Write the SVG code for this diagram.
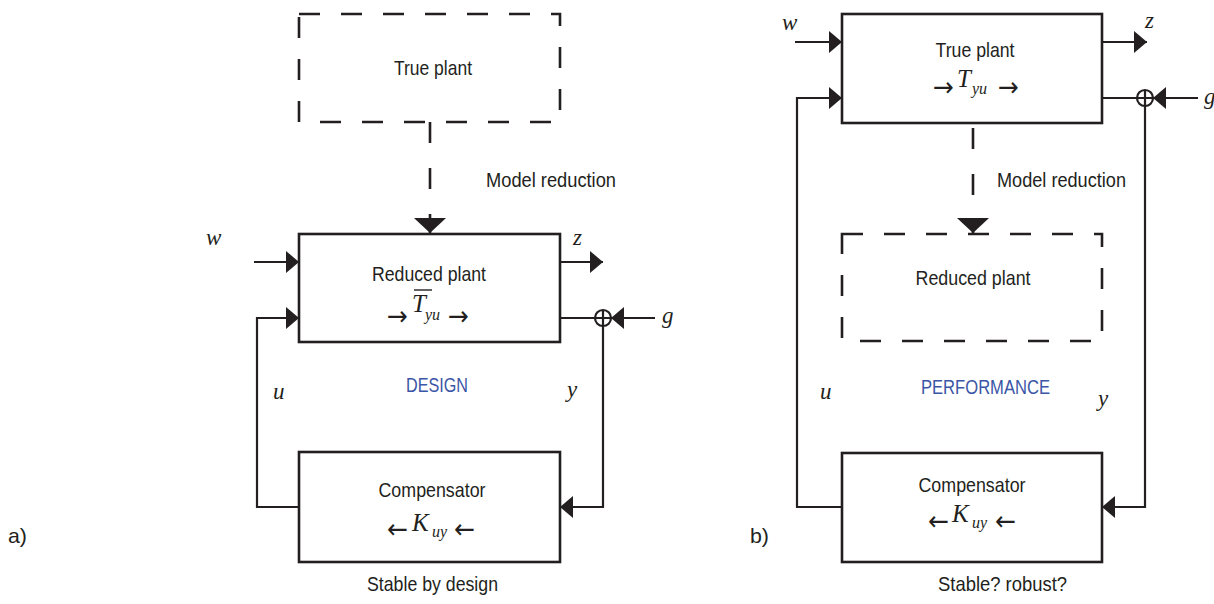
<svg xmlns="http://www.w3.org/2000/svg" width="1214" height="604" viewBox="0 0 1214 604">
<style>
.box{fill:#fff;stroke:#231f20;stroke-width:2.6}
.dbox{fill:none;stroke:#231f20;stroke-width:2.6;stroke-dasharray:21 21}
.ln{fill:none;stroke:#231f20;stroke-width:2.2}
.dln{fill:none;stroke:#231f20;stroke-width:2.6;stroke-dasharray:21 25}
.t{font-family:"Liberation Sans",Arial,sans-serif;font-size:21px;fill:#231f20}
.blue{font-family:"Liberation Sans",Arial,sans-serif;font-size:21px;fill:#3b56a6}
.m{font-family:"Liberation Serif","Times New Roman",serif;font-style:italic;font-size:23px;fill:#231f20}
.mb{font-family:"Liberation Serif","Times New Roman",serif;font-style:italic;font-size:25px;fill:#231f20}
.sub{font-family:"Liberation Serif","Times New Roman",serif;font-style:italic;font-size:16px;fill:#231f20}
.ar{font-family:"DejaVu Sans",sans-serif;font-size:27px;fill:#231f20}
.sum{fill:#fff;stroke:#231f20;stroke-width:2.2}
</style>
<defs>
<marker id="ah" markerUnits="userSpaceOnUse" markerWidth="14" markerHeight="24" refX="13" refY="11" orient="auto">
<path d="M0,0 L13,11 L0,22 Z" fill="#231f20"/>
</marker>
<marker id="ahb" markerUnits="userSpaceOnUse" markerWidth="16" markerHeight="34" refX="15" refY="16" orient="auto">
<path d="M0,0 L15,16 L0,32 Z" fill="#231f20"/>
</marker>
</defs>

<g id="connectors">
<!-- left -->
<path class="dln" d="M430,122 V233" marker-end="url(#ahb)"/>
<path class="ln" d="M254,262 H299" marker-end="url(#ah)"/>
<path class="ln" d="M299,507 H257 V318 H299" marker-end="url(#ah)"/>
<path class="ln" d="M560,262 H603" marker-end="url(#ah)"/>
<path class="ln" d="M560,318 H595"/>
<path class="ln" d="M655,318 H611" marker-end="url(#ah)"/>
<path class="ln" d="M603,326 V507 H560" marker-end="url(#ah)"/>
<!-- right -->
<path class="dln" d="M973,128 V233" marker-end="url(#ahb)"/>
<path class="ln" d="M795,42 H842" marker-end="url(#ah)"/>
<path class="ln" d="M842,507 H797 V98 H842" marker-end="url(#ah)"/>
<path class="ln" d="M1102,42 H1147" marker-end="url(#ah)"/>
<path class="ln" d="M1102,98 H1137"/>
<path class="ln" d="M1198,98 H1153" marker-end="url(#ah)"/>
<path class="ln" d="M1145,106 V507 H1102" marker-end="url(#ah)"/>
</g>

<g id="sum-a">
<circle class="sum" cx="603" cy="318" r="8"/>
<path class="ln" d="M595,318 H611 M603,310 V326"/>
</g>
<g id="sum-b">
<circle class="sum" cx="1145" cy="98" r="8"/>
<path class="ln" d="M1137,98 H1153 M1145,90 V106"/>
</g>

<g id="true-plant-a">
<rect class="dbox" x="299" y="14" width="261" height="108"/>
<text class="t" x="433" y="75" text-anchor="middle" textLength="78" lengthAdjust="spacingAndGlyphs">True plant</text>
</g>

<g id="reduced-plant-a">
<rect class="box" x="299" y="234" width="261" height="108"/>
<text class="t" x="429" y="281" text-anchor="middle" textLength="114" lengthAdjust="spacingAndGlyphs">Reduced plant</text>
<text class="ar" x="387" y="324.5" textLength="21" lengthAdjust="spacingAndGlyphs">→</text>
<text class="mb" x="412" y="312">T</text>
<line x1="414" y1="290" x2="432" y2="290" stroke="#231f20" stroke-width="1.4"/>
<text class="sub" x="425" y="320">yu</text>
<text class="ar" x="448" y="324.5" textLength="21" lengthAdjust="spacingAndGlyphs">→</text>
</g>

<g id="compensator-a">
<rect class="box" x="299" y="452" width="261" height="110"/>
<text class="t" x="432" y="497" text-anchor="middle" textLength="107" lengthAdjust="spacingAndGlyphs">Compensator</text>
<text class="ar" x="387" y="537.5" textLength="21" lengthAdjust="spacingAndGlyphs">←</text>
<text class="mb" x="412" y="531">K</text>
<text class="sub" x="432" y="537">uy</text>
<text class="ar" x="454" y="537.5" textLength="21" lengthAdjust="spacingAndGlyphs">←</text>
</g>

<g id="labels-a">
<text class="t" x="486" y="187" textLength="130" lengthAdjust="spacingAndGlyphs">Model reduction</text>
<text class="blue" x="406" y="392" textLength="62" lengthAdjust="spacingAndGlyphs">DESIGN</text>
<text class="m" x="206" y="245">w</text>
<text class="m" x="573" y="245">z</text>
<text class="m" x="662" y="323">g</text>
<text class="m" x="273" y="399">u</text>
<text class="m" x="567" y="397">y</text>
<text class="t" x="367" y="591" textLength="131" lengthAdjust="spacingAndGlyphs">Stable by design</text>
<text class="t" x="8" y="543" textLength="19" lengthAdjust="spacingAndGlyphs">a)</text>
</g>

<g id="true-plant-b">
<rect class="box" x="842" y="14" width="260" height="109"/>
<text class="t" x="975" y="57" text-anchor="middle" textLength="79" lengthAdjust="spacingAndGlyphs">True plant</text>
<text class="ar" x="933" y="95.5" textLength="21" lengthAdjust="spacingAndGlyphs">→</text>
<text class="mb" x="957" y="87">T</text>
<text class="sub" x="972" y="94">yu</text>
<text class="ar" x="998" y="95.5" textLength="21" lengthAdjust="spacingAndGlyphs">→</text>
</g>

<g id="reduced-plant-b">
<rect class="dbox" x="842" y="234" width="260" height="107"/>
<text class="t" x="973" y="285" text-anchor="middle" textLength="115" lengthAdjust="spacingAndGlyphs">Reduced plant</text>
</g>

<g id="compensator-b">
<rect class="box" x="842" y="453" width="260" height="109"/>
<text class="t" x="972" y="492" text-anchor="middle" textLength="107" lengthAdjust="spacingAndGlyphs">Compensator</text>
<text class="ar" x="928" y="529.5" textLength="21" lengthAdjust="spacingAndGlyphs">←</text>
<text class="mb" x="952" y="522">K</text>
<text class="sub" x="972" y="528">uy</text>
<text class="ar" x="995" y="529.5" textLength="21" lengthAdjust="spacingAndGlyphs">←</text>
</g>

<g id="labels-b">
<text class="t" x="997" y="187" textLength="129" lengthAdjust="spacingAndGlyphs">Model reduction</text>
<text class="blue" x="921" y="394" textLength="129" lengthAdjust="spacingAndGlyphs">PERFORMANCE</text>
<text class="m" x="782" y="30">w</text>
<text class="m" x="1145" y="28">z</text>
<text class="m" x="1204" y="104">g</text>
<text class="m" x="820" y="399">u</text>
<text class="m" x="1098" y="406">y</text>
<text class="t" x="938" y="591" textLength="129" lengthAdjust="spacingAndGlyphs">Stable? robust?</text>
<text class="t" x="750" y="543" textLength="19" lengthAdjust="spacingAndGlyphs">b)</text>
</g>
</svg>
